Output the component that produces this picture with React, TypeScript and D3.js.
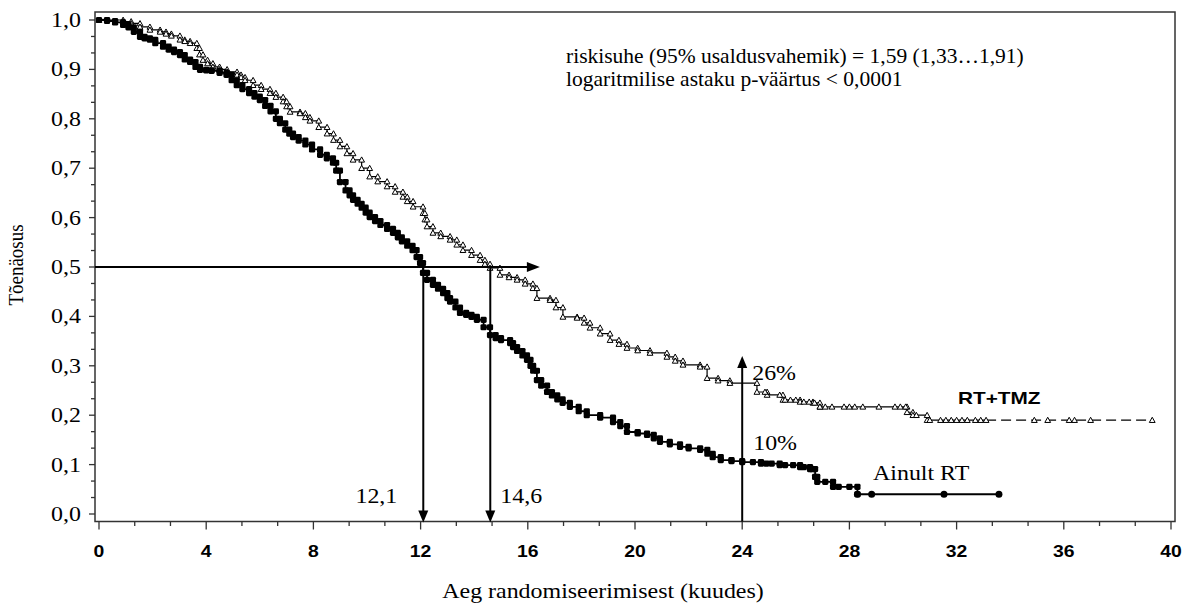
import React from "react";
import * as d3 from "d3";

// ---- Data ----
const rtTimes = [0, 0.3, 0.6, 0.9, 1.1, 1.3, 1.53, 1.7, 1.9, 2.1, 2.39, 2.6, 2.8, 3.02, 3.2, 3.4, 3.6, 3.77, 4.0, 4.2, 4.5, 4.76, 4.95, 5.14, 5.35, 5.6, 5.8, 6.0, 6.2, 6.4, 6.6, 6.75, 6.95, 7.1, 7.24, 7.45, 7.7, 7.95, 8.25, 8.5, 8.73, 8.85, 8.99, 9.2, 9.35, 9.48, 9.65, 9.8, 9.95, 10.1, 10.3, 10.5, 10.75, 10.97, 11.15, 11.3, 11.5, 11.7, 11.85, 11.98, 12.09, 12.24, 12.46, 12.65, 12.84, 13.0, 13.1, 13.3, 13.47, 13.7, 13.9, 14.1, 14.35, 14.59, 14.8, 15.0, 15.34, 15.45, 15.6, 15.8, 15.97, 16.1, 16.2, 16.34, 16.5, 16.72, 16.9, 17.1, 17.3, 17.57, 17.9, 18.2, 18.7, 19.18, 19.45, 19.7, 20.1, 20.45, 20.7, 20.93, 21.3, 21.68, 22.0, 22.43, 22.7, 22.9, 23.2, 23.6, 24.0, 24.7, 25.4, 26.16, 26.53, 26.72, 26.8, 27.39, 28.3];
const rtSurv = [1.0, 0.998, 0.995, 0.99, 0.985, 0.976, 0.966, 0.963, 0.96, 0.953, 0.946, 0.94, 0.935, 0.929, 0.92, 0.915, 0.905, 0.899, 0.898, 0.897, 0.893, 0.889, 0.878, 0.868, 0.86, 0.852, 0.845, 0.838, 0.826, 0.815, 0.8, 0.791, 0.778, 0.77, 0.763, 0.756, 0.748, 0.738, 0.727, 0.72, 0.711, 0.695, 0.672, 0.655, 0.645, 0.636, 0.628, 0.62, 0.61, 0.601, 0.593, 0.585, 0.577, 0.569, 0.56, 0.552, 0.543, 0.534, 0.52, 0.508, 0.488, 0.474, 0.464, 0.456, 0.447, 0.437, 0.43, 0.418, 0.407, 0.403, 0.399, 0.393, 0.378, 0.362, 0.356, 0.352, 0.346, 0.338, 0.33, 0.321, 0.312, 0.3, 0.29, 0.271, 0.26, 0.247, 0.24, 0.232, 0.225, 0.217, 0.208, 0.2, 0.195, 0.186, 0.178, 0.166, 0.163, 0.16, 0.153, 0.146, 0.141, 0.136, 0.133, 0.13, 0.122, 0.115, 0.109, 0.107, 0.105, 0.102, 0.099, 0.095, 0.091, 0.075, 0.065, 0.055, 0.04];
const rtEnd = 33.58;
const rtCensorSquares = [24.4, 24.9, 25.1, 25.6, 25.9, 26.3, 26.6, 27.1, 27.6, 28.0];
const rtCensorCircles = [28.3, 28.83, 31.53, 33.58];

const tmzTimes = [0, 0.9, 1.2, 1.53, 1.9, 2.28, 2.5, 2.7, 3.02, 3.2, 3.4, 3.65, 3.75, 3.88, 4.05, 4.25, 4.5, 4.78, 5.15, 5.3, 5.45, 5.75, 6.05, 6.38, 6.6, 6.87, 7.0, 7.13, 7.5, 7.7, 7.87, 8.2, 8.51, 8.75, 8.99, 9.25, 9.48, 9.8, 10.1, 10.4, 10.75, 11.05, 11.34, 11.5, 11.72, 12.09, 12.16, 12.24, 12.46, 12.75, 13.1, 13.35, 13.58, 13.9, 14.22, 14.4, 14.59, 14.96, 15.3, 15.6, 15.9, 16.19, 16.34, 16.83, 17.05, 17.31, 17.84, 18.1, 18.32, 18.7, 19.07, 19.4, 19.7, 20.1, 20.56, 21.19, 21.5, 21.79, 22.43, 22.69, 23.1, 23.54, 24.55, 24.93, 25.52, 26.16, 26.64, 26.9, 30.15, 30.37, 30.9];
const tmzSurv = [1.0, 0.997, 0.993, 0.986, 0.98, 0.976, 0.972, 0.968, 0.96, 0.957, 0.953, 0.943, 0.93, 0.919, 0.912, 0.905, 0.9, 0.895, 0.889, 0.884, 0.878, 0.868, 0.86, 0.852, 0.844, 0.835, 0.825, 0.814, 0.811, 0.803, 0.796, 0.783, 0.77, 0.757, 0.744, 0.73, 0.717, 0.7, 0.683, 0.673, 0.663, 0.652, 0.642, 0.633, 0.622, 0.609, 0.596, 0.582, 0.569, 0.562, 0.555, 0.545, 0.534, 0.524, 0.514, 0.506, 0.498, 0.484, 0.479, 0.474, 0.466, 0.457, 0.437, 0.433, 0.418, 0.399, 0.397, 0.387, 0.377, 0.365, 0.352, 0.344, 0.336, 0.331, 0.326, 0.318, 0.31, 0.302, 0.298, 0.275, 0.27, 0.265, 0.247, 0.241, 0.231, 0.227, 0.225, 0.217, 0.206, 0.2, 0.19];
const tmzEnd = 39.3;
const tmzDashFrom = 33.1;
const tmzCensor = [24.85, 25.4, 25.6, 25.8, 26.0, 26.3, 26.5, 26.7, 26.9, 27.1, 27.35, 27.8, 28.0, 28.2, 28.5, 29.1, 29.7, 29.9, 30.1, 30.5, 31.0, 31.4, 31.6, 31.8, 32.0, 32.2, 32.4, 32.7, 32.9, 33.1, 34.9, 35.4, 36.2, 36.4, 37.0, 39.3];

const xTicks = [0, 4, 8, 12, 16, 20, 24, 28, 32, 36, 40];
const yTicks = [0, 0.1, 0.2, 0.3, 0.4, 0.5, 0.6, 0.7, 0.8, 0.9, 1.0];
const medianRT = 12.1;
const medianTMZ = 14.6;
const medianArrowEnd = 16.45;
const twoYear = 24;
const twoYearArrowTop = 0.32;
const twoYearTMZ = 0.26;
const twoYearRT = 0.1;
const statLines = [
  "riskisuhe (95% usaldusvahemik) = 1,59 (1,33…1,91)",
  "logaritmilise astaku p-väärtus < 0,0001",
];

const W = 1182;
const H = 604;
const SERIF = "'Liberation Serif', 'Times New Roman', serif";
const SANS = "'Liberation Sans', Arial, sans-serif";
const SX = 1.14;

const x = d3.scaleLinear().domain([0, 40]).range([99, 1171]);
const y = d3.scaleLinear().domain([0, 1]).range([514, 20]);

const frame = { left: 95, top: 12, right: 1175, bottom: 521.5 };

function stepAt(times: number[], surv: number[], t: number) {
  let v = surv[0];
  for (let i = 0; i < times.length; i++) if (times[i] <= t) v = surv[i];
  return v;
}

function T(props: any) {
  const { x: tx, y: ty, anchor = "start", size = 21, family = SERIF, weight = "normal", sx = SX, children } = props;
  return (
    <text
      transform={`translate(${tx},${ty}) scale(${sx},1)`}
      textAnchor={anchor}
      fontSize={size}
      fontFamily={family}
      fontWeight={weight}
      fill="#000"
    >
      {children}
    </text>
  );
}

function vertices(times: number[], surv: number[]) {
  const pts: [number, number][] = [];
  for (let i = 0; i < times.length; i++) {
    if (i > 0) pts.push([times[i], surv[i - 1]]);
    pts.push([times[i], surv[i]]);
  }
  return pts;
}

export default function App() {
  const stepLine = d3
    .line<[number, number]>()
    .x((d) => x(d[0]))
    .y((d) => y(d[1]))
    .curve(d3.curveStepAfter);

  const rtPts: [number, number][] = rtTimes.map((t, i) => [t, rtSurv[i]] as [number, number]);
  rtPts.push([rtEnd, rtSurv[rtSurv.length - 1]]);

  const tmzSolid: [number, number][] = tmzTimes.map((t, i) => [t, tmzSurv[i]] as [number, number]);
  tmzSolid.push([tmzDashFrom, tmzSurv[tmzSurv.length - 1]]);
  const tmzDash: [number, number][] = [
    [tmzDashFrom, tmzSurv[tmzSurv.length - 1]],
    [tmzEnd, tmzSurv[tmzSurv.length - 1]],
  ];

  const rtVerts = vertices(rtTimes, rtSurv);
  const tmzVerts = vertices(tmzTimes, tmzSurv);

  const minorY = d3.range(0, 31).map((i) => i / 30);
  const minorX = d3.range(0, 31).map((i) => (i * 4) / 3);

  const tri = (cx: number, cy: number, s = 2.9) =>
    `M${cx},${cy - s} L${cx + s},${cy + s * 0.8} L${cx - s},${cy + s * 0.8} Z`;

  const arrowH = (tx: number, ty: number) => `M${tx},${ty} L${tx - 13},${ty - 5} L${tx - 13},${ty + 5} Z`;
  const arrowDown = (tx: number, ty: number) => `M${tx},${ty} L${tx - 5},${ty - 12} L${tx + 5},${ty - 12} Z`;
  const arrowUp = (tx: number, ty: number) => `M${tx},${ty} L${tx - 5},${ty + 12} L${tx + 5},${ty + 12} Z`;

  const MS = 6.2;

  return (
    <div style={{ position: "absolute", left: 0, top: 0, width: W, height: H, background: "#fff" }}>
      <svg width={W} height={H} viewBox={`0 0 ${W} ${H}`} style={{ display: "block" }}>
        <rect x={0} y={0} width={W} height={H} fill="#fff" />
        {/* frame */}
        <rect
          x={frame.left}
          y={frame.top}
          width={frame.right - frame.left}
          height={frame.bottom - frame.top}
          fill="none"
          stroke="#333"
          strokeWidth={1.5}
        />
        {/* y ticks */}
        {minorY.map((v, i) => (
          <line key={"ym" + i} x1={frame.left} x2={frame.left - (i % 3 === 0 ? 6 : 4)} y1={y(v)} y2={y(v)} stroke="#333" strokeWidth={1.3} />
        ))}
        {yTicks.map((v) => (
          <T key={"yl" + v} x={81} y={y(v) + 7} anchor="end" size={21}>
            {d3.format(".1f")(v).replace(".", ",")}
          </T>
        ))}
        {/* x ticks */}
        {minorX.map((v, i) => (
          <line key={"xm" + i} x1={x(v)} x2={x(v)} y1={frame.bottom} y2={frame.bottom + (i % 3 === 0 ? 8 : 4.5)} stroke="#333" strokeWidth={1.3} />
        ))}
        {xTicks.map((v) => (
          <T key={"xl" + v} x={x(v)} y={557} anchor="middle" size={17} family={SANS} weight="bold">
            {String(v)}
          </T>
        ))}
        {/* axis titles */}
        <text
          transform={`translate(23,265) rotate(-90) scale(1,${SX})`}
          textAnchor="middle"
          fontSize={19}
          fontFamily={SERIF}
        >
          Tõenäosus
        </text>
        <T x={603} y={598} anchor="middle" size={21}>
          Aeg randomiseerimisest (kuudes)
        </T>

        {/* RT+TMZ curve */}
        <path d={stepLine(tmzSolid) || ""} fill="none" stroke="#000" strokeWidth={1.2} />
        <path d={stepLine(tmzDash) || ""} fill="none" stroke="#000" strokeWidth={1.2} strokeDasharray="10,5" />
        {tmzVerts.map((d, i) => (
          <path key={"tv" + i} d={tri(x(d[0]), y(d[1]))} fill="#fff" stroke="#000" strokeWidth={1} />
        ))}
        {tmzCensor.map((t, i) => (
          <path key={"tc" + i} d={tri(x(t), y(stepAt(tmzTimes, tmzSurv, t)))} fill="#fff" stroke="#000" strokeWidth={1} />
        ))}

        {/* RT only curve */}
        <path d={stepLine(rtPts) || ""} fill="none" stroke="#000" strokeWidth={1.8} />
        {rtVerts.map((d, i) => (
          <rect key={"rv" + i} x={x(d[0]) - MS / 2} y={y(d[1]) - MS / 2} width={MS} height={MS} rx={1.4} fill="#000" />
        ))}
        {rtCensorSquares.map((t, i) => (
          <rect key={"rc" + i} x={x(t) - MS / 2} y={y(stepAt(rtTimes, rtSurv, t)) - MS / 2} width={MS} height={MS} rx={1.4} fill="#000" />
        ))}
        {rtCensorCircles.map((t, i) => (
          <circle key={"rcc" + i} cx={x(t)} cy={y(stepAt(rtTimes, rtSurv, t))} r={3.5} fill="#000" />
        ))}

        {/* median arrows */}
        <line x1={frame.left} x2={x(medianArrowEnd) - 12} y1={y(0.5)} y2={y(0.5)} stroke="#000" strokeWidth={2} />
        <path d={arrowH(x(medianArrowEnd), y(0.5))} fill="#000" />
        {[medianRT, medianTMZ].map((m) => (
          <g key={"ma" + m}>
            <line x1={x(m)} x2={x(m)} y1={y(0.5)} y2={frame.bottom - 10} stroke="#000" strokeWidth={2} />
            <path d={arrowDown(x(m), frame.bottom + 1)} fill="#000" />
          </g>
        ))}
        <T x={x(medianRT) - 26} y={503} anchor="end" size={21}>
          {String(medianRT).replace(".", ",")}
        </T>
        <T x={x(medianTMZ) + 10} y={503} anchor="start" size={21}>
          {String(medianTMZ).replace(".", ",")}
        </T>

        {/* 24-month arrow */}
        <line x1={x(twoYear)} x2={x(twoYear)} y1={frame.bottom} y2={y(twoYearArrowTop) + 10} stroke="#000" strokeWidth={2} />
        <path d={arrowUp(x(twoYear), y(twoYearArrowTop))} fill="#000" />
        <T x={x(twoYear) + 10} y={380} size={21}>
          {Math.round(twoYearTMZ * 100) + "%"}
        </T>
        <T x={x(twoYear) + 11} y={450} size={21}>
          {Math.round(twoYearRT * 100) + "%"}
        </T>

        {/* series labels */}
        <T x={958} y={404} size={16} family={SANS} weight="bold" sx={1.3}>
          RT+TMZ
        </T>
        <T x={873} y={480} size={21}>
          Ainult RT
        </T>

        {/* stats */}
        <T x={566} y={63} size={20.5} sx={1.05}>
          {statLines[0]}
        </T>
        <T x={566} y={86} size={20.5} sx={1.05}>
          {statLines[1]}
        </T>
      </svg>
    </div>
  );
}
